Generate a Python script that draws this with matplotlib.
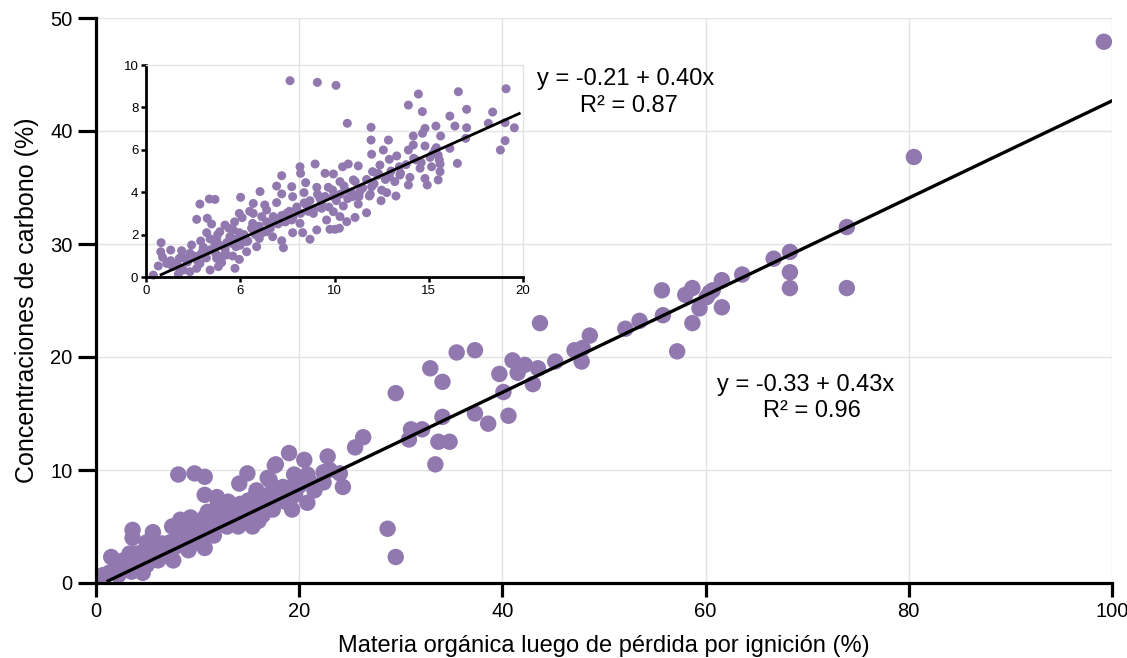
import matplotlib
matplotlib.use('Agg')
import matplotlib.pyplot as plt
import numpy as np

plt.rcParams['font.family'] = ['Liberation Sans', 'DejaVu Sans']

PURPLE = '#9179b0'
GRID = '#e3e3e3'

# main panel: organic matter (LOI %) vs carbon (%)
main_x = [99.2, 80.5, 73.9, 73.9, 68.3, 68.3, 68.3, 66.7, 63.6, 61.6, 61.6, 60.7, 60.4, 60.1, 59.4,
          58.7, 58.0, 55.7, 55.8, 58.7, 57.2, 53.5, 52.1, 48.6, 47.1, 47.9, 47.8, 45.2, 43.7, 43.5,
          43.0, 41.0, 42.2, 41.5, 39.7, 40.1, 40.6, 37.3, 35.5, 32.9, 34.1, 29.5, 34.1, 37.3, 38.6,
          31.0, 32.1, 30.8, 33.7, 34.8, 33.4, 28.7, 29.5,
          26.3, 25.5, 22.8, 24.0, 24.3, 22.4, 22.4, 20.5, 19.0, 17.7, 19.5, 20.8, 20.8, 19.3, 19.6,
          16.9, 14.9, 14.1, 10.7, 10.7, 9.7, 8.1,
          0.7, 1.5, 2.2, 2.7, 3.6, 3.6, 3.5, 4.6, 4.8, 5.6, 6.1, 6.5, 7.5, 7.6, 8.3, 9.3, 9.1, 10.7,
          10.7, 10.5, 11.9, 12.5, 12.9, 15.4, 15.8, 16.4, 17.1, 17.6, 17.8, 18.4,
          1.8, 2.5, 3.0, 3.3, 4.0, 4.3, 5.0, 5.3, 5.8, 6.3, 6.8, 7.0, 7.3, 7.8, 8.0, 8.5, 8.8, 9.0,
          9.5, 9.8, 10.0, 10.3, 11.0, 11.3, 11.6, 12.0, 12.2, 12.8, 13.2, 13.5, 13.8, 14.2, 14.5,
          14.8, 15.0, 15.3, 15.6, 16.0, 16.2, 16.6, 17.0, 17.4, 18.0, 18.6, 19.0, 20.0, 21.0, 21.5,
          23.0, 13.0, 12.0, 11.0, 9.0, 6.0, 5.0, 4.0, 2.0, 1.3, 14.0, 16.0]
main_y = [47.9, 37.7, 31.5, 26.1, 29.3, 27.5, 26.1, 28.7, 27.3, 26.8, 24.4, 25.9, 25.7, 25.3, 24.3,
          26.1, 25.5, 25.9, 23.7, 23.0, 20.5, 23.2, 22.5, 21.9, 20.6, 20.8, 19.6, 19.6, 23.0, 19.0,
          17.6, 19.7, 19.3, 18.6, 18.5, 16.9, 14.8, 20.6, 20.4, 19.0, 17.8, 16.8, 14.7, 15.0, 14.1,
          13.6, 13.6, 12.7, 12.5, 12.5, 10.5, 4.8, 2.3,
          12.9, 12.0, 11.2, 9.7, 8.5, 9.8, 8.9, 10.9, 11.5, 10.5, 9.6, 9.6, 7.1, 6.5, 7.8,
          9.3, 9.7, 8.8, 9.4, 7.8, 9.7, 9.6,
          0.7, 2.3, 0.7, 2.0, 4.7, 4.0, 1.0, 0.9, 2.9, 4.5, 2.0, 3.5, 5.0, 2.0, 5.6, 5.8, 2.9, 5.8,
          3.1, 4.2, 7.6, 6.6, 5.0, 5.0, 8.2, 6.0, 9.1, 10.4, 7.3, 8.5,
          1.2, 1.5, 1.8, 2.6, 1.8, 2.2, 1.6, 2.4, 2.8, 2.6, 3.0, 2.4, 3.6, 3.2, 4.0, 3.4, 4.3, 3.8,
          4.6, 3.6, 4.8, 5.2, 4.5, 5.6, 4.2, 5.3, 6.0, 5.6, 6.5, 5.4, 6.1, 7.0, 6.2,
          5.4, 7.3, 6.5, 7.6, 6.8, 7.8, 7.0, 7.8, 6.5, 8.0, 7.2, 8.4, 8.6, 9.0, 8.2,
          10.0, 7.2, 7.0, 6.3, 5.0, 3.3, 3.6, 2.6, 1.5, 0.9, 5.0, 5.5]

# inset panel: low-range samples
inset_x = [7.64, 9.09, 10.08, 19.1, 14.45, 16.57, 13.92, 14.66, 17.01, 18.39, 16.12, 15.38, 16.39,
           14.80, 17.01, 18.16, 19.05, 19.54, 10.68, 11.94, 14.18, 15.63, 14.67, 11.94, 12.86, 16.96,
           19.05, 16.12, 18.8, 14.18, 14.80, 13.92, 12.59, 15.33, 11.97, 13.30, 15.50, 12.91, 14.33,
           16.52, 15.60, 15.07, 11.26, 10.73, 10.43, 12.41, 14.54, 15.60, 13.44, 12.02, 8.17, 8.20,
           7.20, 8.97, 9.50, 9.94, 11.0, 12.32, 12.91, 13.47, 13.92, 14.80, 14.92, 15.50, 15.15, 15.56,
           7.73, 8.47, 9.06, 6.93, 6.05, 5.02, 5.69, 7.20, 7.78, 8.38, 9.67, 10.29, 10.56, 11.35,
           11.97, 12.47, 11.85, 12.77, 13.26, 8.52, 9.23, 9.94, 10.47, 10.96, 11.26, 11.70,
           3.66, 3.36, 2.86, 2.69, 3.25, 3.48, 3.22, 3.92, 4.45, 4.95, 5.69, 4.95, 5.66, 6.40, 6.14,
           6.54, 7.20, 7.46, 6.93, 7.99, 7.73, 8.17, 8.88, 9.32, 9.94, 9.58, 10.29, 10.65, 11.09,
           10.03, 10.26, 9.76, 9.06, 8.31, 7.78, 8.70, 7.29, 7.20, 6.72, 5.87, 6.01, 5.34, 4.77, 4.28,
           3.66, 3.04, 2.42, 1.89, 1.31, 0.80, 0.78, 0.88, 0.65, 0.39, 1.31, 1.68, 2.16, 2.33, 2.86,
           3.40, 4.01, 4.72, 4.95, 4.28, 3.75, 5.34, 3.40, 2.86, 2.33, 1.77, 1.41, 1.10, 1.98, 1.72,
           2.69, 3.84, 4.60, 5.69, 4.63, 4.19, 3.75, 5.16, 6.40, 6.75,
           8.5, 8.7, 8.9, 9.1, 9.3, 9.5, 9.7, 9.9, 10.1, 10.3, 10.5, 10.7, 10.9, 11.1, 11.3, 11.5,
           11.7, 11.9, 12.1, 12.3, 12.5, 12.7, 13.0, 13.2, 13.5, 13.8, 14.0, 14.2, 14.6, 15.2, 15.4,
           4.2, 4.5, 4.8, 5.0, 5.2, 5.4, 5.6, 5.8, 6.0, 6.2, 6.4, 6.6, 6.8, 7.0, 7.2, 7.4, 7.6, 7.8,
           8.0, 8.2, 8.4, 8.6,
           1.5, 1.8, 2.0, 2.2, 2.5, 2.7, 3.0, 3.2, 3.5, 3.7, 3.9, 4.1, 2.9, 3.4, 3.8, 4.4, 4.7, 5.1,
           5.5, 6.3]
inset_y = [9.26, 9.18, 9.04, 8.88, 8.63, 8.74, 8.11, 7.80, 7.91, 7.78, 7.59, 7.12, 7.12,
           7.01, 7.04, 7.25, 7.28, 7.04, 7.25, 7.06, 6.65, 6.65, 6.78, 6.46, 6.46, 6.54,
           6.43, 6.07, 5.99, 6.23, 6.18, 5.99, 5.99, 5.99, 5.79, 5.71, 5.75, 5.55, 5.52,
           5.36, 5.33, 5.64, 5.24, 5.33, 5.20, 5.28, 5.13, 4.97, 5.20, 4.97, 5.20, 4.89,
           4.78, 5.33, 4.89, 4.86, 4.58, 4.89, 4.73, 4.81, 4.34, 4.65, 4.34, 4.58, 5.20, 5.52,
           4.26, 4.45, 4.23, 4.29, 4.03, 3.76, 3.47, 3.92, 3.79, 3.98, 4.23, 4.50, 4.10, 4.03,
           4.26, 3.60, 3.82, 3.98, 3.82, 3.47, 3.71, 3.79, 3.35, 3.79, 3.44, 3.03,
           3.66, 3.68, 3.44, 2.72, 2.77, 2.50, 2.09, 2.14, 1.90, 2.09, 3.00, 3.00, 2.53, 3.16, 2.85,
           2.53, 2.61, 3.00, 3.51, 3.19, 2.69, 2.53, 3.00, 3.24, 3.08, 2.69, 2.85, 2.61, 2.81,
           2.25, 2.30, 2.25, 2.22, 2.09, 2.09, 1.78, 1.38, 1.71, 1.90, 1.43, 1.82, 1.67, 1.43, 1.62,
           1.59, 1.40, 1.51, 1.24, 1.27, 1.62, 1.19, 0.93, 0.52, 0.09, 0.77, 0.57, 0.83, 0.25, 0.64,
           0.33, 0.68, 0.41, 0.83, 1.04, 0.88, 1.19, 1.27, 1.04, 1.12, 0.88, 0.49, 0.64, 0.33, 0.14,
           0.41, 0.49, 0.99, 2.22, 2.22, 2.45, 1.75, 1.82, 2.14, 2.85,
           3.4, 3.6, 3.2, 3.9, 3.5, 3.8, 3.3, 4.1, 3.6, 3.9, 4.3, 3.7, 4.0, 4.5, 3.8, 4.2,
           4.6, 3.9, 4.4, 4.8, 4.1, 4.6, 5.0, 4.5, 4.9, 5.3, 4.7, 5.6, 5.4, 5.8, 6.1,
           1.3, 1.6, 1.8, 1.5, 2.0, 1.7, 2.3, 2.0, 2.4, 2.1, 2.6, 2.3, 2.8, 2.5, 2.9, 2.6, 3.1, 2.8,
           3.3, 3.0, 3.5, 3.1,
           0.6, 0.4, 0.9, 0.7, 1.0, 0.8, 1.2, 0.9, 1.3, 1.1, 1.5, 1.0, 1.7, 1.8, 2.0, 2.3, 2.6, 2.8,
           3.1, 3.4]

# fitted lines (intercept, slope, x range)
main_fit = (-0.33, 0.43, 1.2, 100.0)
inset_fit = (-0.21, 0.40, 0.8, 19.8)

fig = plt.figure(figsize=(11.27, 6.58), dpi=100)

# ---- main axes
ax = fig.add_axes([96 / 1127, 75 / 658, 1016 / 1127, 565 / 658])
ax.set_xlim(0, 100)
ax.set_ylim(0, 50)
ax.set_axisbelow(True)
ax.grid(True, color=GRID, linewidth=1)
ax.scatter(main_x, main_y, s=140, color=PURPLE, edgecolors='none', zorder=2, clip_on=False)
b0, b1, xa, xb = main_fit
xx = np.array([xa, xb])
ax.plot(xx, b0 + b1 * xx, color='black', linewidth=2.4, zorder=3)

for side in ['top', 'right']:
    ax.spines[side].set_visible(False)
for side in ['left', 'bottom']:
    ax.spines[side].set_linewidth(2.3)
ax.set_xticks([0, 20, 40, 60, 80, 100])
ax.set_yticks([0, 10, 20, 30, 40, 50])
ax.tick_params(axis='both', width=2.3, length=10, labelsize=14.5, pad=4)
ax.tick_params(axis='y', length=13)
ax.set_xlabel('Materia orgánica luego de pérdida por ignición (%)', fontsize=17, labelpad=10)
ax.set_ylabel('Concentraciones de carbono (%)', fontsize=18, labelpad=8)

ax.text(52.1, 44.6, 'y = -0.21 + 0.40x', fontsize=17, ha='center', va='center')
ax.text(52.5, 42.2, 'R² = 0.87', fontsize=17, ha='center', va='center')
ax.text(69.8, 17.5, 'y = -0.33 + 0.43x', fontsize=17, ha='center', va='center')
ax.text(70.5, 15.2, 'R² = 0.96', fontsize=17, ha='center', va='center')

# ---- inset axes
ins = fig.add_axes([146 / 1127, 381 / 658, 377 / 1127, 212 / 658])
ins.set_facecolor('none')
ins.set_xlim(0, 20)
ins.set_ylim(0, 10)
ins.scatter(inset_x, inset_y, s=42, color=PURPLE, edgecolors='none', zorder=2, clip_on=False)
c0, c1, xa, xb = inset_fit
xx = np.array([xa, xb])
ins.plot(xx, c0 + c1 * xx, color='black', linewidth=2.0, zorder=3)
for side in ['top', 'right']:
    ins.spines[side].set_color(GRID)
    ins.spines[side].set_linewidth(1)
for side in ['left', 'bottom']:
    ins.spines[side].set_linewidth(2.0)
ins.set_xticks([0, 5, 10, 15, 20])
ins.set_xticklabels(['0', '6', '10', '15', '20'])
ins.set_yticks([0, 2, 4, 6, 8, 10])
ins.tick_params(axis='both', width=1.8, length=3.5, labelsize=9.5, pad=2)

fig.savefig('out.png', dpi=100)
